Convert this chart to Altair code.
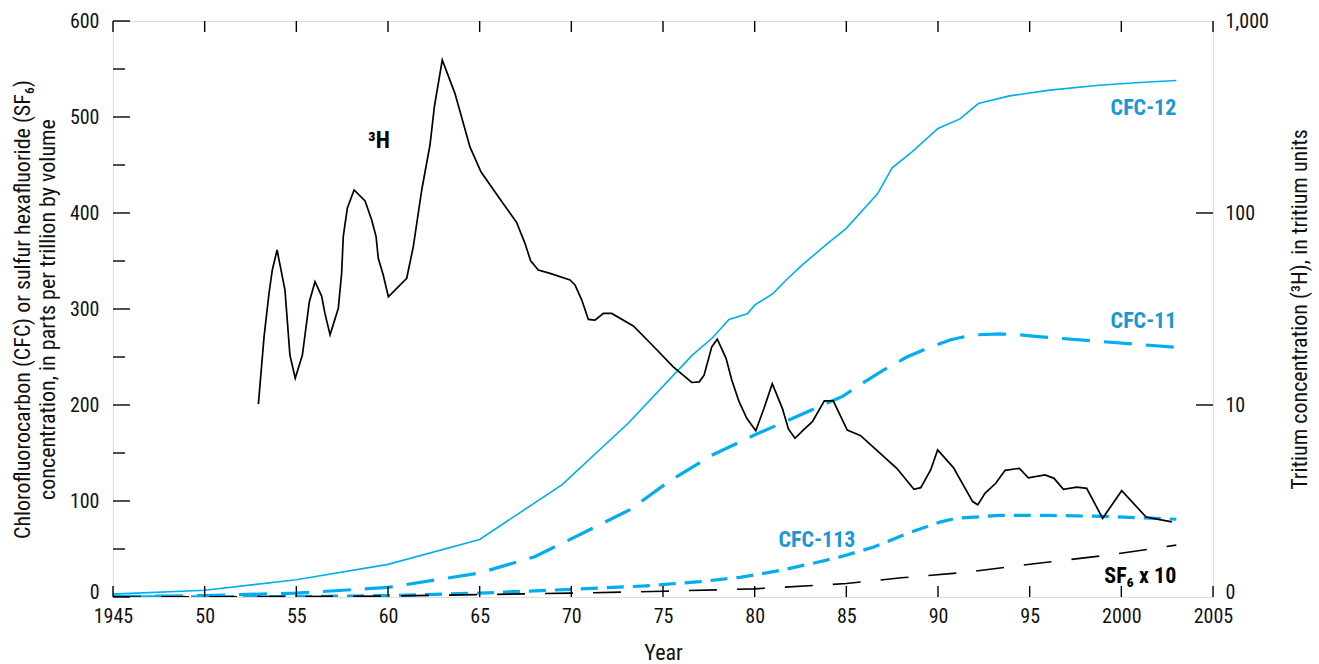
import altair as alt
import pandas as pd

FONT = "Liberation Sans Narrow, Roboto Condensed, DejaVu Sans Condensed, Arial Narrow, sans-serif"
LINE_BLUE = "#00aeef"
TEXT_BLUE = "#1b96d6"

# ---------------- data ----------------
cfc12_year = [1945, 1950, 1955, 1960, 1965, 1969.5, 1973.1, 1976.6, 1977.7, 1978.6, 1979.6, 1980.0,
              1981.0, 1981.7, 1982.6, 1983.9, 1985.0, 1986.7, 1987.5, 1988.6, 1990.0, 1991.2,
              1992.2, 1993.9, 1996.1, 1998.8, 2001.0, 2003.0]
cfc12_val = [3, 7, 18, 34, 60, 117, 181, 252, 270, 289, 295, 304,
             316, 330, 346, 367, 384, 420, 447, 464, 488, 498,
             514, 522, 528, 533, 536, 538]

cfc11_year = [1945, 1950, 1955, 1960, 1965, 1968, 1971.0, 1973.2, 1975.3, 1977.6, 1979.9, 1982.3,
              1983.7, 1984.8, 1985.9, 1987.0, 1988.3, 1989.4, 1990.7, 1991.9, 1993.4, 1994.5,
              1995.6, 2003.0]
cfc11_val = [0.5, 1.5, 4, 10, 25, 42, 70, 91, 120, 147, 168, 188,
             200, 209, 223, 236, 250, 259, 268, 273, 274, 273,
             271, 260]

cfc113_year = [1945, 1955, 1960, 1965, 1970, 1974, 1977, 1979.2, 1981.5, 1983.6, 1984.7, 1986.5,
               1988.3, 1990.1, 1991, 1993.4, 1996, 1999, 2003]
cfc113_val = [0, 0.5, 1.5, 4, 8, 11.5, 16, 20.5, 28, 37, 42, 52,
              66, 78, 82, 85, 85, 84, 81]

sf6_year = [1945, 1955, 1960, 1965, 1970, 1975, 1980, 1985, 1988, 1991.5, 1995.7, 1999.3, 2003]
sf6_val = [0, 0.5, 1, 2.5, 4, 6, 8.5, 14, 20, 25.7, 35.7, 43.7, 54]

h3_year = [1952.93, 1953.24, 1953.51, 1953.69, 1953.95, 1954.38, 1954.65, 1954.94, 1955.33, 1955.71,
           1956.02, 1956.38, 1956.56, 1956.84, 1957.29, 1957.47, 1957.56, 1957.78, 1958.15, 1958.75,
           1959.11, 1959.35, 1959.47, 1959.74, 1960.02, 1961.02, 1961.38, 1961.84, 1962.29, 1962.53,
           1962.96, 1963.65, 1964.47, 1965.07, 1966.02, 1967.02, 1967.47, 1967.78, 1968.20, 1968.84,
           1969.93, 1970.20, 1970.57, 1970.93, 1971.29, 1971.75, 1972.20, 1973.38, 1974.29, 1975.56,
           1976.57, 1976.98, 1977.24, 1977.66, 1977.96, 1978.44, 1978.75, 1979.15, 1979.57, 1980.06,
           1980.51, 1980.96, 1981.51, 1981.84, 1982.20, 1982.69, 1983.15, 1983.80, 1984.29, 1985.05,
           1985.78, 1987.75, 1988.69, 1989.06, 1989.60, 1989.98, 1990.84, 1991.89, 1992.17, 1992.56,
           1993.15, 1993.66, 1994.44, 1994.93, 1995.84, 1996.33, 1996.84, 1997.57, 1998.11, 1998.98,
           2000.02, 2001.35, 2002.75]
h3_val = [10.1, 22.7, 38.2, 50.5, 64.2, 39.7, 18.2, 13.8, 18.2, 34.5,
          43.9, 36.9, 30.0, 23.2, 31.9, 48.5, 75.3, 105.8, 131.8, 115.5,
          92.0, 75.3, 58.1, 47.5, 36.6, 45.7, 66.8, 131.8, 226, 358,
          626, 420, 221, 164, 121.6, 89.1, 69.5, 56.4, 50.5, 48.5,
          44.8, 42.2, 35.2, 27.9, 27.7, 30.0, 30.0, 25.8, 21.1, 15.8,
          13.1, 13.2, 14.3, 20.1, 22.0, 17.5, 13.5, 10.4, 8.53, 7.35,
          9.61, 12.9, 9.61, 7.50, 6.71, 7.47, 8.19, 10.5, 10.5, 7.41,
          6.92, 4.68, 3.64, 3.71, 4.59, 5.83, 4.72, 3.14, 3.02, 3.47,
          3.91, 4.57, 4.68, 4.17, 4.32, 4.15, 3.64, 3.73, 3.68, 2.57,
          3.58, 2.61, 2.46]

x_ticks = list(range(1945, 2006, 5))
left_major = [0, 100, 200, 300, 400, 500, 600]
left_minor = [50, 150, 250, 350, 450, 550]
right_ticks = [1, 10, 100, 1000]

label_text = ["CFC-12", "CFC-11", "CFC-113"]
label_year = [2003.0, 2003.0, 1983.4]
label_val = [509, 287, 59]
label_align = ["right", "right", "center"]

# ---------------- scales ----------------
W, H = 1100, 576
xs = alt.Scale(domain=[1945, 2005], nice=False, zero=False)
ys_left = alt.Scale(domain=[0, 600], nice=False, zero=False)
ys_right = alt.Scale(type="log", domain=[1, 1000], nice=False)

TICK_FS = 20
TITLE_FS = 22


def df(x, y):
    return pd.DataFrame({"year": x, "value": y})


X = alt.X("year:Q", scale=xs, axis=alt.Axis(
    values=x_ticks, title="Year", ticks=False, domain=False, grid=False, labelFlush=False,
    labelExpr="datum.value == 1945 || datum.value >= 2000 ? '' + datum.value : substring('' + datum.value, 2, 4)",
    labelPadding=9, labelFontSize=TICK_FS, titleFontSize=TITLE_FS, titlePadding=16, titleFontWeight="normal",
    labelColor="#111", titleColor="#111"))

YL = alt.Y("value:Q", scale=ys_left, axis=alt.Axis(
    values=left_major, format="d", ticks=False, domain=False, grid=False, labelFlush=False,
    labelOffset={"condition": {"test": "datum.value == 0", "value": -5}, "value": 0},
    title=["Chlorofluorocarbon (CFC) or sulfur hexafluoride (SF₆)",
           "concentration, in parts per trillion by volume"],
    labelPadding=14, labelFontSize=TICK_FS, titleFontSize=TITLE_FS, titleFontWeight="normal",
    titlePadding=10, titleLineHeight=25, labelColor="#111", titleColor="#111"))


def line(x, y, color, width, dash=None):
    kw = dict(color=color, strokeWidth=width, clip=True)
    if dash:
        kw["strokeDash"] = dash
    return alt.Chart(df(x, y)).mark_line(**kw).encode(
        x=alt.X("year:Q", scale=xs),
        y=alt.Y("value:Q", scale=ys_left))


cfc12 = alt.Chart(df(cfc12_year, cfc12_val)).mark_line(color=LINE_BLUE, strokeWidth=1.6).encode(x=X, y=YL)
cfc11 = line(cfc11_year, cfc11_val, LINE_BLUE, 3.2, [28, 14])
cfc113 = line(cfc113_year, cfc113_val, LINE_BLUE, 3.2, [17, 9])
sf6 = line(sf6_year, sf6_val, "#000", 1.6, [28, 20])

# inward ticks
xt = pd.DataFrame({"year": x_ticks})
bottom_ticks = alt.Chart(xt).mark_rule(color="#000", strokeWidth=1.4).encode(
    x=alt.X("year:Q", scale=xs), y=alt.value(H), y2=alt.value(H - 11))
top_ticks = alt.Chart(xt).mark_rule(color="#000", strokeWidth=1.4).encode(
    x=alt.X("year:Q", scale=xs), y=alt.value(0), y2=alt.value(11))
lmaj = alt.Chart(pd.DataFrame({"value": left_major})).mark_rule(color="#000", strokeWidth=1.4).encode(
    y=alt.Y("value:Q", scale=ys_left), x=alt.value(0), x2=alt.value(17))
lmin = alt.Chart(pd.DataFrame({"value": left_minor})).mark_rule(color="#000", strokeWidth=1.4).encode(
    y=alt.Y("value:Q", scale=ys_left), x=alt.value(0), x2=alt.value(12))

labels = alt.Chart(pd.DataFrame({"t": label_text, "year": label_year, "value": label_val, "a": label_align}))
lab_right = labels.transform_filter("datum.a == 'right'").mark_text(
    align="right", baseline="middle", font=FONT, fontSize=22, fontWeight="bold", color=TEXT_BLUE).encode(
    x=alt.X("year:Q", scale=xs), y=alt.Y("value:Q", scale=ys_left), text="t:N")
lab_center = labels.transform_filter("datum.a == 'center'").mark_text(
    align="center", baseline="middle", font=FONT, fontSize=22, fontWeight="bold", color=TEXT_BLUE).encode(
    x=alt.X("year:Q", scale=xs), y=alt.Y("value:Q", scale=ys_left), text="t:N")
sf6_label = alt.Chart(pd.DataFrame({"t": ["SF₆ x 10"], "year": [2003.0], "value": [22]})).mark_text(
    align="right", baseline="middle", font=FONT, fontSize=22, fontWeight="bold", color="#000").encode(
    x=alt.X("year:Q", scale=xs), y=alt.Y("value:Q", scale=ys_left), text="t:N")
h3_label = alt.Chart(pd.DataFrame({"t": ["³H"], "year": [1959.5], "value": [475]})).mark_text(
    align="center", baseline="middle", font=FONT, fontSize=23, fontWeight="bold", color="#000").encode(
    x=alt.X("year:Q", scale=xs), y=alt.Y("value:Q", scale=ys_left), text="t:N")

left_group = alt.layer(cfc12, cfc11, cfc113, sf6, bottom_ticks, top_ticks, lmaj, lmin,
                       lab_right, lab_center, sf6_label, h3_label)

YR = alt.Y("value:Q", scale=ys_right, axis=alt.Axis(
    orient="right", values=right_ticks, ticks=False, domain=False, grid=False, labelFlush=False,
    labelExpr="datum.value == 1 ? '0' : format(datum.value, ',')",
    labelOffset={"condition": {"test": "datum.value == 1", "value": -5}, "value": 0},
    title="Tritium concentration (³H), in tritium units", titleAngle=270,
    labelPadding=12, labelFontSize=TICK_FS, titleFontSize=TITLE_FS, titleFontWeight="normal",
    titlePadding=43, labelColor="#111", titleColor="#111"))

h3 = alt.Chart(df(h3_year, h3_val)).mark_line(color="#000", strokeWidth=1.7).encode(
    x=alt.X("year:Q", scale=xs), y=YR)
rt = alt.Chart(pd.DataFrame({"value": [10, 100]})).mark_rule(color="#000", strokeWidth=1.4).encode(
    y=alt.Y("value:Q", scale=ys_right), x=alt.value(W), x2=alt.value(W - 17))

right_group = alt.layer(h3, rt)

chart = alt.layer(left_group, right_group).resolve_scale(y="independent").properties(
    width=W, height=H,
    autosize=alt.AutoSizeParams(type="none"),
    padding={"left": 113, "top": 21, "right": 106, "bottom": 67},
    background="white",
).configure_view(stroke="#000", strokeWidth=1.6).configure(font=FONT).configure_axis(
    labelFont=FONT, titleFont=FONT)

chart.save("out.html", embed_options={"renderer": "svg", "actions": False})
